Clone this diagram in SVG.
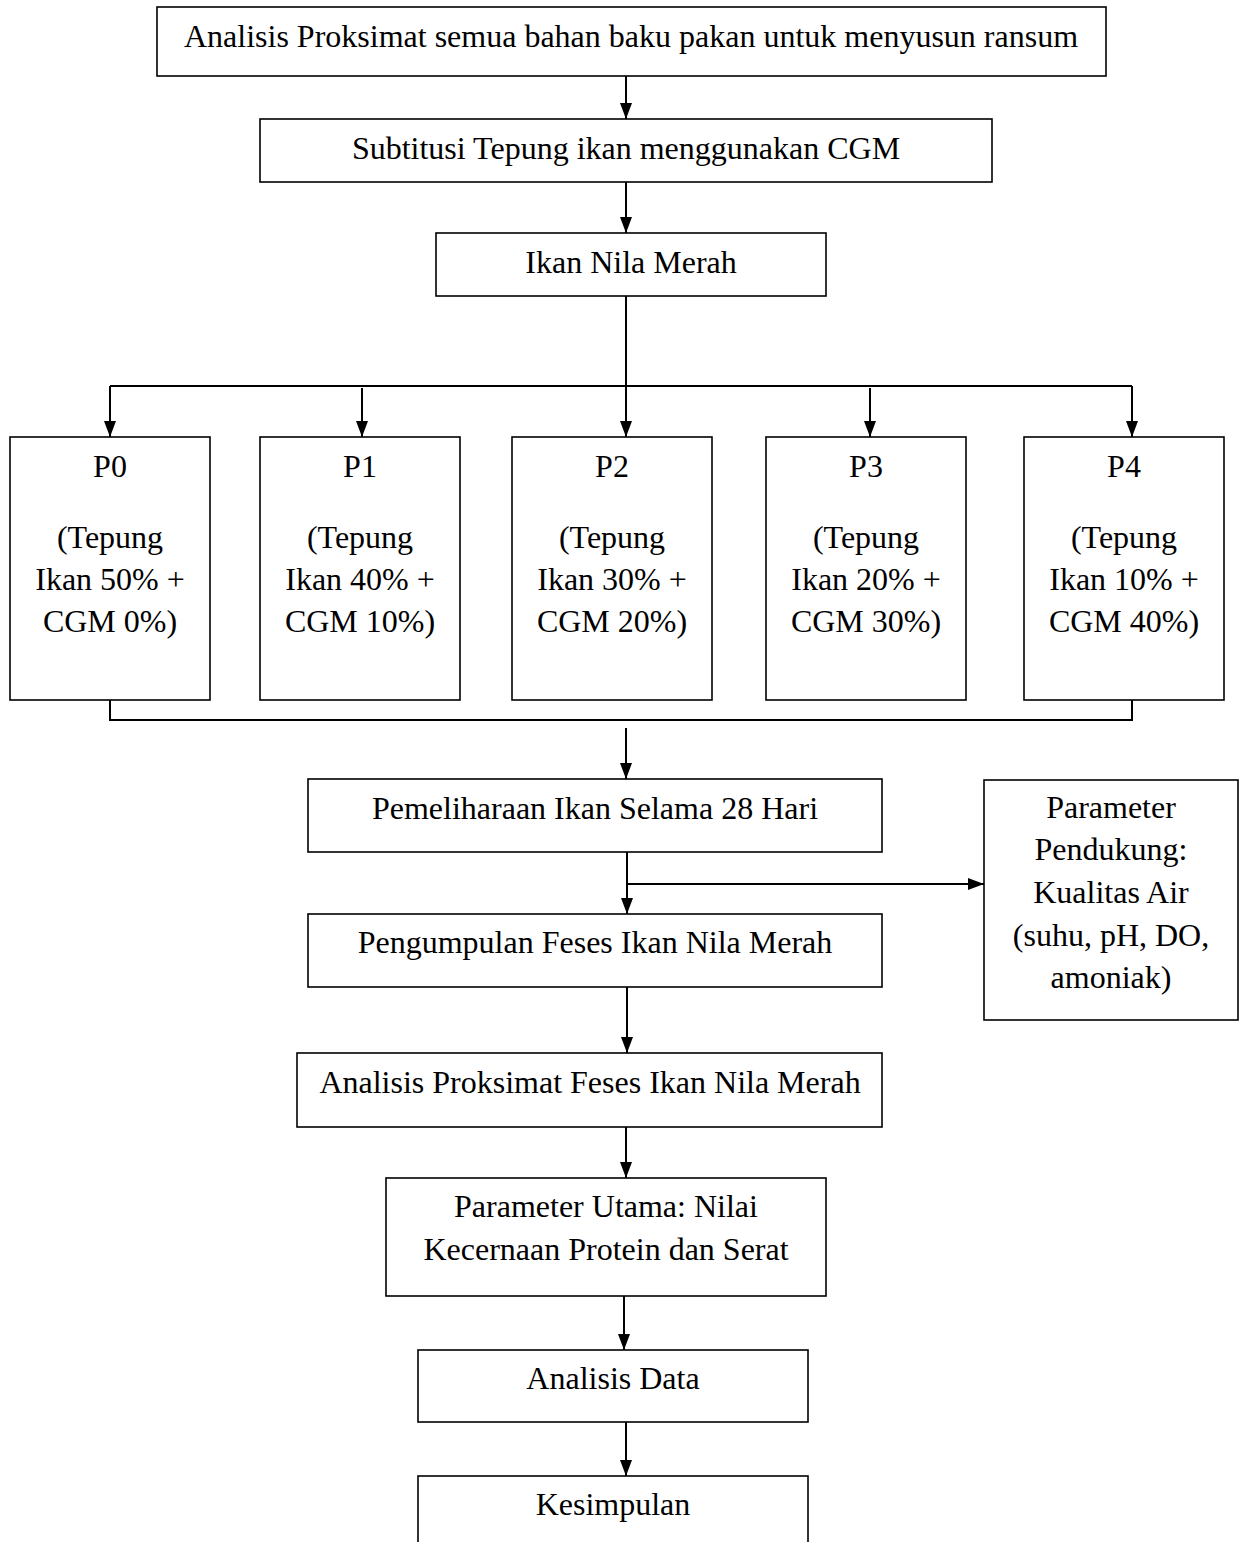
<svg xmlns="http://www.w3.org/2000/svg" width="1239" height="1542" viewBox="0 0 1239 1542">
<style>
.box{fill:#fff;stroke:#000;stroke-width:1.6}
.t{font-family:"Liberation Serif","Times New Roman",serif;font-size:32px;fill:#000;text-anchor:middle}
.c{fill:none;stroke:#000;stroke-width:2}
</style>
<defs>
<marker id="ah" viewBox="0 0 16 12" refX="16" refY="6" markerWidth="16" markerHeight="12" markerUnits="userSpaceOnUse" orient="auto">
<path d="M0,0 L16,6 L0,12 z" fill="#000"/>
</marker>
</defs>
<rect width="1239" height="1542" fill="#fff"/>
<g id="connectors">
<line class="c" x1="626" y1="76" x2="626" y2="119" marker-end="url(#ah)"/>
<line class="c" x1="626" y1="182" x2="626" y2="233" marker-end="url(#ah)"/>
<line class="c" x1="626" y1="296" x2="626" y2="386"/>
<line class="c" x1="110" y1="386" x2="1132" y2="386"/>
<line class="c" x1="110" y1="386" x2="110" y2="437" marker-end="url(#ah)"/>
<line class="c" x1="362" y1="388" x2="362" y2="437" marker-end="url(#ah)"/>
<line class="c" x1="626" y1="386" x2="626" y2="437" marker-end="url(#ah)"/>
<line class="c" x1="870" y1="388" x2="870" y2="437" marker-end="url(#ah)"/>
<line class="c" x1="1132" y1="386" x2="1132" y2="437" marker-end="url(#ah)"/>
<polyline class="c" points="110,700 110,720 1132,720 1132,700"/>
<line class="c" x1="626" y1="728" x2="626" y2="779" marker-end="url(#ah)"/>
<line class="c" x1="627" y1="852" x2="627" y2="914" marker-end="url(#ah)"/>
<line class="c" x1="627" y1="884" x2="984" y2="884" marker-end="url(#ah)"/>
<line class="c" x1="627" y1="987" x2="627" y2="1053" marker-end="url(#ah)"/>
<line class="c" x1="626" y1="1127" x2="626" y2="1178" marker-end="url(#ah)"/>
<line class="c" x1="624" y1="1296" x2="624" y2="1350" marker-end="url(#ah)"/>
<line class="c" x1="626" y1="1422" x2="626" y2="1476" marker-end="url(#ah)"/>
</g>
<g id="n1"><rect class="box" x="157" y="7" width="949" height="69"/><text class="t" x="631" y="47">Analisis Proksimat semua bahan baku pakan untuk menyusun ransum</text></g>
<g id="n2"><rect class="box" x="260" y="119" width="732" height="63"/><text class="t" x="626" y="159">Subtitusi Tepung ikan menggunakan CGM</text></g>
<g id="n3"><rect class="box" x="436" y="233" width="390" height="63"/><text class="t" x="631" y="273">Ikan Nila Merah</text></g>
<g id="p0"><rect class="box" x="10" y="437" width="200" height="263"/><text class="t" x="110" y="477">P0</text><text class="t" x="110" y="548">(Tepung</text><text class="t" x="110" y="590">Ikan 50% +</text><text class="t" x="110" y="632">CGM 0%)</text></g>
<g id="p1"><rect class="box" x="260" y="437" width="200" height="263"/><text class="t" x="360" y="477">P1</text><text class="t" x="360" y="548">(Tepung</text><text class="t" x="360" y="590">Ikan 40% +</text><text class="t" x="360" y="632">CGM 10%)</text></g>
<g id="p2"><rect class="box" x="512" y="437" width="200" height="263"/><text class="t" x="612" y="477">P2</text><text class="t" x="612" y="548">(Tepung</text><text class="t" x="612" y="590">Ikan 30% +</text><text class="t" x="612" y="632">CGM 20%)</text></g>
<g id="p3"><rect class="box" x="766" y="437" width="200" height="263"/><text class="t" x="866" y="477">P3</text><text class="t" x="866" y="548">(Tepung</text><text class="t" x="866" y="590">Ikan 20% +</text><text class="t" x="866" y="632">CGM 30%)</text></g>
<g id="p4"><rect class="box" x="1024" y="437" width="200" height="263"/><text class="t" x="1124" y="477">P4</text><text class="t" x="1124" y="548">(Tepung</text><text class="t" x="1124" y="590">Ikan 10% +</text><text class="t" x="1124" y="632">CGM 40%)</text></g>
<g id="n4"><rect class="box" x="308" y="779" width="574" height="73"/><text class="t" x="595" y="819">Pemeliharaan Ikan Selama 28 Hari</text></g>
<g id="n5"><rect class="box" x="984" y="780" width="254" height="240"/><text class="t" x="1111" y="818">Parameter</text><text class="t" x="1111" y="860">Pendukung:</text><text class="t" x="1111" y="903">Kualitas Air</text><text class="t" x="1111" y="946">(suhu, pH, DO,</text><text class="t" x="1111" y="988">amoniak)</text></g>
<g id="n6"><rect class="box" x="308" y="914" width="574" height="73"/><text class="t" x="595" y="953">Pengumpulan Feses Ikan Nila Merah</text></g>
<g id="n7"><rect class="box" x="297" y="1053" width="585" height="74"/><text class="t" x="590" y="1093">Analisis Proksimat Feses Ikan Nila Merah</text></g>
<g id="n8"><rect class="box" x="386" y="1178" width="440" height="118"/><text class="t" x="606" y="1217">Parameter Utama: Nilai</text><text class="t" x="606" y="1260">Kecernaan Protein dan Serat</text></g>
<g id="n9"><rect class="box" x="418" y="1350" width="390" height="72"/><text class="t" x="613" y="1389">Analisis Data</text></g>
<g id="n10"><rect class="box" x="418" y="1476" width="390" height="100"/><text class="t" x="613" y="1515">Kesimpulan</text></g>
</svg>
